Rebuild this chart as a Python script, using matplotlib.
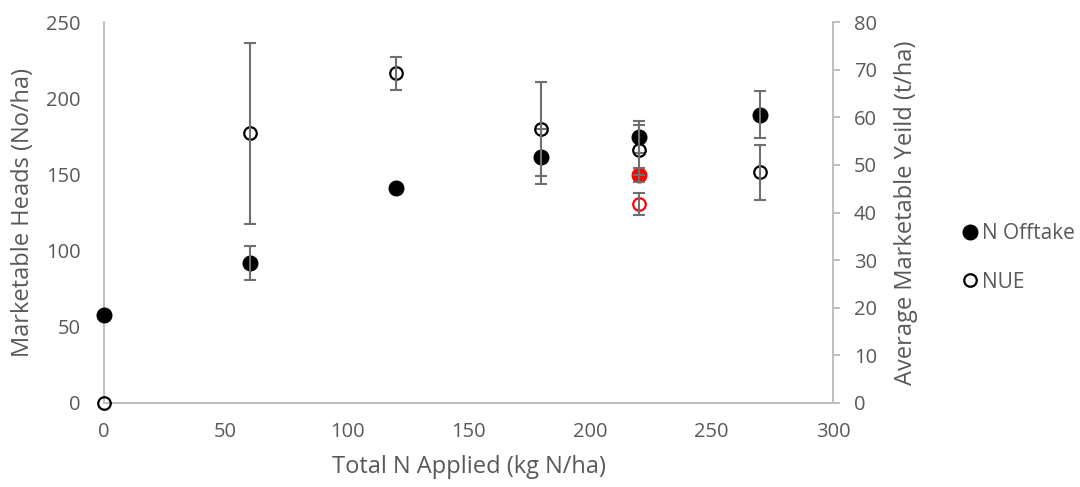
import matplotlib
matplotlib.use("Agg")
import matplotlib.pyplot as plt
from matplotlib.lines import Line2D

# Nitrogen rate trial: offtake (left axis) and NUE (right axis)
n_applied = [0, 60, 120, 180, 220, 270]
offtake = [57.7, 91.7, 140.9, 161.6, 174.8, 189.0]
offtake_err = [0, 11.2, 0, 18.1, 10.5, 15.4]
nue = [0, 56.6, 69.2, 57.5, 53.1, 48.4]
nue_err = [0, 19.0, 3.4, 9.9, 5.25, 5.8]

# Highlighted treatment at 220 kg N/ha
red_x = [220]
red_offtake = [149.6]
red_offtake_err = [4.7]
red_nue = [41.8]
red_nue_err = [2.3]

x_ticks = [0, 50, 100, 150, 200, 250, 300]
left_ticks = [0, 50, 100, 150, 200, 250]
right_ticks = [0, 10, 20, 30, 40, 50, 60, 70, 80]

FONT = "Open Sans"
TXT = "#595959"
AXC = "#bfbfbf"
BAR = "#6f6f6f"

plt.rcParams["font.family"] = [FONT, "DejaVu Sans"]

fig = plt.figure(figsize=(10.8, 4.87), dpi=100)
ax = fig.add_axes([104 / 1080, 1 - 403 / 487, (833 - 104) / 1080, (403 - 22) / 487])
ax2 = ax.twinx()

ms_fill = 10.5
ms_open = 9.0
err_kw = dict(fmt="none", ecolor=BAR, elinewidth=1.5, capsize=4.5, capthick=1.5,
              zorder=4, clip_on=False)


def draw_errors(a, xs, ys, errs):
    # skip treatments without a measured spread
    keep = [i for i, e in enumerate(errs) if e > 0]
    a.errorbar([xs[i] for i in keep], [ys[i] for i in keep],
               yerr=[errs[i] for i in keep], **err_kw)


# Filled markers: N offtake on the left scale
ax.plot(n_applied, offtake, "o", color="black", ms=ms_fill, zorder=3, clip_on=False)
draw_errors(ax, n_applied, offtake, offtake_err)
ax.plot(red_x, red_offtake, "o", color="#ff0000", ms=ms_fill, zorder=3, clip_on=False)
draw_errors(ax, red_x, red_offtake, red_offtake_err)

# Hollow markers: NUE on the right scale
ax2.plot(n_applied, nue, "o", mfc="none", mec="black", mew=1.6, ms=ms_open,
         zorder=3, clip_on=False)
draw_errors(ax2, n_applied, nue, nue_err)
ax2.plot(red_x, red_nue, "o", mfc="none", mec="#ff0000", mew=1.6, ms=ms_open,
         zorder=3, clip_on=False)
draw_errors(ax2, red_x, red_nue, red_nue_err)

ax.set_xlim(0, 300)
ax.set_ylim(0, 250)
ax2.set_ylim(0, 80)
ax.set_xticks(x_ticks)
ax.set_yticks(left_ticks)
ax2.set_yticks(right_ticks)

for a in (ax, ax2):
    for s in a.spines.values():
        s.set_visible(False)
ax.spines["left"].set_visible(True)
ax.spines["bottom"].set_visible(True)
ax2.spines["right"].set_visible(True)
for s in (ax.spines["left"], ax.spines["bottom"], ax2.spines["right"]):
    s.set_color(AXC)
    s.set_linewidth(1.4)

ax.tick_params(axis="x", length=0, pad=14, labelsize=14.5, labelcolor=TXT)
ax.tick_params(axis="y", length=0, pad=17, labelsize=14.5, labelcolor=TXT)
ax2.tick_params(axis="y", length=5, width=1.4, color=AXC, pad=10, labelsize=14.5,
                labelcolor=TXT)

ax.set_xlabel("Total N Applied (kg N/ha)", fontsize=17, color=TXT, labelpad=9)
ax.set_ylabel("Marketable Heads (No/ha)", fontsize=17, color=TXT, labelpad=8)
ax2.set_ylabel("Average Marketable Yeild (t/ha)", fontsize=17, color=TXT, labelpad=12)

handles = [
    Line2D([], [], marker="o", ls="none", color="black", ms=ms_fill),
    Line2D([], [], marker="o", ls="none", mfc="none", mec="black", mew=1.6, ms=ms_open),
]
fig.legend(handles, ["N Offtake", "NUE"], loc="center left",
           bbox_to_anchor=(955 / 1080, 1 - 258 / 487), frameon=False,
           fontsize=15, labelcolor=TXT, handlelength=0.6, handletextpad=0.3,
           labelspacing=1.3, borderaxespad=0)

fig.savefig("out.png", dpi=100)
